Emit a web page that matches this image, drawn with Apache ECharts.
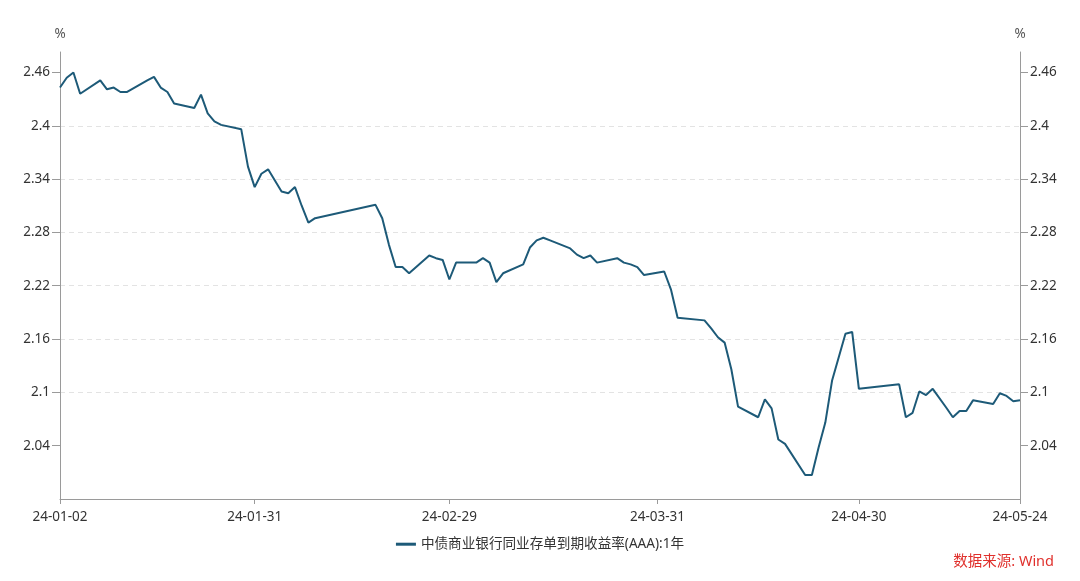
<!DOCTYPE html>
<html>
<head>
<meta charset="utf-8">
<script src="https://cdn.jsdelivr.net/npm/echarts@6/dist/echarts.min.js"></script>
<style>
html,body{margin:0;padding:0;background:#fff;}
#chart{width:1080px;height:581px;}
</style>
</head>
<body>
<div id="chart"></div>
<script>
const seriesName = '中债商业银行同业存单到期收益率(AAA):1年';
const dates = [
'2024-01-02','2024-01-03','2024-01-04','2024-01-05','2024-01-08','2024-01-09','2024-01-10','2024-01-11','2024-01-12',
'2024-01-15','2024-01-16','2024-01-17','2024-01-18','2024-01-19','2024-01-22','2024-01-23','2024-01-24','2024-01-25','2024-01-26',
'2024-01-29','2024-01-30','2024-01-31','2024-02-01','2024-02-02','2024-02-04','2024-02-05','2024-02-06','2024-02-07','2024-02-08','2024-02-09',
'2024-02-18','2024-02-19','2024-02-20','2024-02-21','2024-02-22','2024-02-23','2024-02-26','2024-02-27','2024-02-28','2024-02-29','2024-03-01',
'2024-03-04','2024-03-05','2024-03-06','2024-03-07','2024-03-08','2024-03-11','2024-03-12','2024-03-13','2024-03-14','2024-03-15',
'2024-03-18','2024-03-19','2024-03-20','2024-03-21','2024-03-22','2024-03-25','2024-03-26','2024-03-27','2024-03-28','2024-03-29',
'2024-04-01','2024-04-02','2024-04-03','2024-04-07','2024-04-08','2024-04-09','2024-04-10','2024-04-11','2024-04-12',
'2024-04-15','2024-04-16','2024-04-17','2024-04-18','2024-04-19','2024-04-22','2024-04-23','2024-04-24','2024-04-25','2024-04-26',
'2024-04-28','2024-04-29','2024-04-30','2024-05-06','2024-05-07','2024-05-08','2024-05-09','2024-05-10','2024-05-11',
'2024-05-13','2024-05-14','2024-05-15','2024-05-16','2024-05-17','2024-05-20','2024-05-21','2024-05-22','2024-05-23','2024-05-24'
];
const values = [
2.443,2.454,2.460,2.436,2.451,2.441,2.443,2.438,2.438,
2.451,2.455,2.443,2.438,2.425,2.420,2.435,2.414,2.405,2.401,
2.396,2.354,2.331,2.346,2.351,2.326,2.324,2.331,2.310,2.291,2.296,
2.311,2.296,2.266,2.241,2.241,2.234,2.254,2.251,2.249,2.227,2.246,
2.246,2.251,2.246,2.224,2.234,2.244,2.263,2.271,2.274,2.271,
2.262,2.255,2.251,2.254,2.246,2.251,2.246,2.244,2.241,2.232,
2.236,2.216,2.184,2.181,2.172,2.162,2.156,2.126,2.084,
2.072,2.092,2.082,2.047,2.042,2.007,2.007,2.038,2.066,2.113,
2.166,2.168,2.104,2.109,2.072,2.077,2.101,2.097,2.104,
2.083,2.072,2.079,2.079,2.091,2.087,2.099,2.096,2.090,2.091
];
const xTickDates = ['2024-01-02','2024-01-31','2024-02-29','2024-03-31','2024-04-30','2024-05-24'];
const yTicks = [2.04,2.1,2.16,2.22,2.28,2.34,2.4,2.46];
const yMin = 1.98, yMax = 2.483, yStep = 0.06;
const yUnit = '%';
const sourceText = '数据来源: Wind';

function toTs(s){const p=s.split('-').map(Number);return new Date(p[0],p[1]-1,p[2]).getTime();}
function pad(n){return (n<10?'0':'')+n;}
function fmtDate(v){const d=new Date(v);return String(d.getFullYear()).slice(2)+'-'+pad(d.getMonth()+1)+'-'+pad(d.getDate());}
const data = dates.map((d,i)=>[toTs(d),values[i]]);
const xTicks = xTickDates.map(toTs);
const FONT = "'Noto Sans','Noto Sans CJK SC',sans-serif";
const axisGray = '#9a9a9a';

function yAxisCfg(pos){
  return {
    type:'value', position:pos, min:yMin, max:yMax, interval:yStep,
    name:yUnit, nameLocation:'end', nameGap:11,
    nameTextStyle:{color:'#555',fontSize:13.5,fontFamily:FONT, align:'center'},
    axisLine:{show:true,lineStyle:{color:axisGray,width:1}},
    axisTick:{show:true,length:8,lineStyle:{color:axisGray},customValues:yTicks},
    axisLabel:{color:'#333',fontSize:13.5,fontFamily:FONT,margin:10,customValues:yTicks,
      formatter:v=>String(parseFloat(Number(v).toFixed(2)))},
    splitLine:{show:pos==='left',showMinLine:false,showMaxLine:false,lineStyle:{color:'#e3e3e3',type:[5,4],width:1}}
  };
}

const chart = echarts.init(document.getElementById('chart'));
chart.setOption({
  animation:false,
  backgroundColor:'#fff',
  grid:{left:60,right:60,top:52,bottom:82,containLabel:false},
  legend:{
    bottom:25,left:'center',
    data:[seriesName],
    icon:'rect',itemWidth:20,itemHeight:3,
    textStyle:{color:'#333',fontSize:13.6,fontFamily:FONT}
  },
  xAxis:{
    type:'value', min:xTicks[0], max:xTicks[xTicks.length-1], scale:true,
    axisLine:{lineStyle:{color:axisGray,width:1}},
    axisTick:{show:true,length:5,lineStyle:{color:axisGray},customValues:xTicks},
    axisLabel:{color:'#333',fontSize:13.5,fontFamily:FONT,margin:11,customValues:xTicks,
      formatter:v=>fmtDate(v),showMinLabel:true,showMaxLabel:true,hideOverlap:false},
    splitLine:{show:false}
  },
  yAxis:[yAxisCfg('left'), yAxisCfg('right')],
  series:[{
    name:seriesName, type:'line', yAxisIndex:0, data:data,
    showSymbol:false, symbol:'none',
    lineStyle:{color:'#1d5a78',width:2},
    itemStyle:{color:'#1d5a78'}
  }],
  graphic:[{
    type:'text', right:26, top:555,
    style:{text:sourceText, fill:'#e0302c', font:"14.5px 'Noto Sans','Noto Sans CJK SC',sans-serif"}
  }]
});
</script>
</body>
</html>
